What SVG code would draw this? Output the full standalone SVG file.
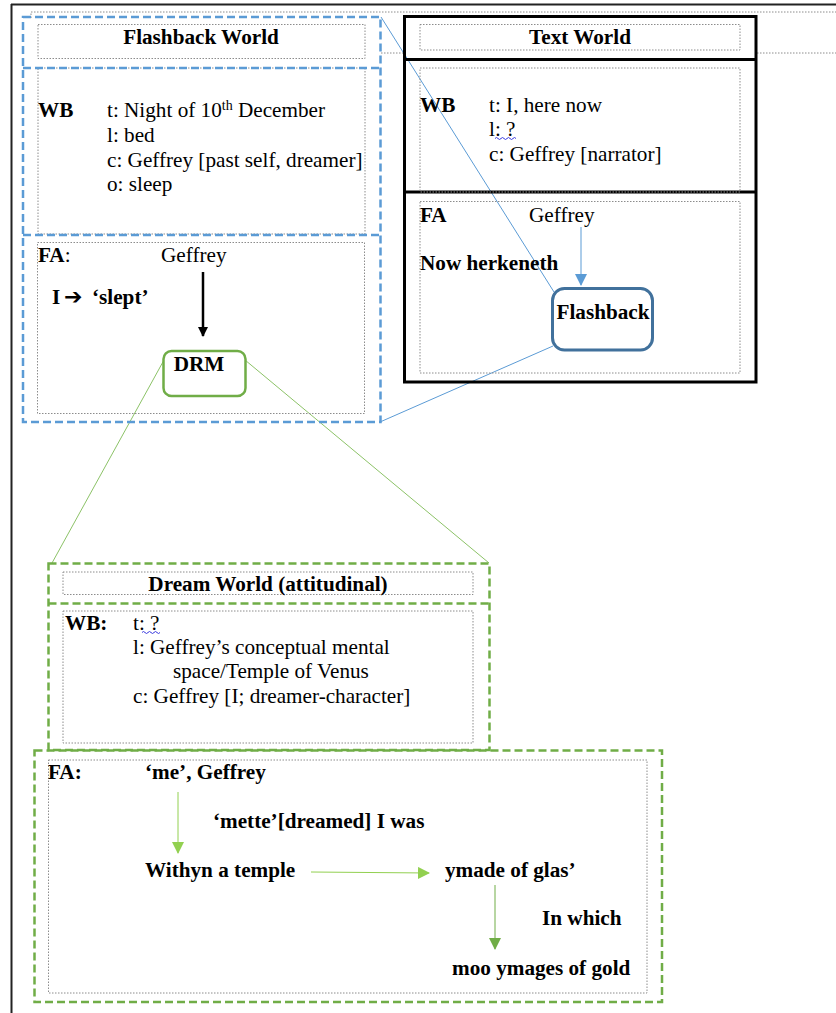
<svg xmlns="http://www.w3.org/2000/svg" width="836" height="1013" viewBox="0 0 836 1013">
  <style>
    text { font-family: "Liberation Serif", "Times New Roman", serif; font-size: 21.2px; fill: #000; }
    .b { font-weight: bold; }
    .dot { fill: none; stroke: #8c8c8c; stroke-width: 1; stroke-dasharray: 1.5 1.5; }
    .bluedash { fill: none; stroke: #5b9bd5; stroke-width: 2.5; stroke-dasharray: 8 4; }
    .greendash { fill: none; stroke: #70ad47; stroke-width: 2.5; stroke-dasharray: 8 4; }
    .blk { fill: none; stroke: #000; stroke-width: 3; }
    .link-blue { stroke: #5b9bd5; stroke-width: 1; fill: none; }
    .link-green { stroke: #8cc267; stroke-width: 1; fill: none; }
    .squig { stroke: #3a3adf; stroke-width: 1; fill: none; }
  </style>
  <defs>
    <marker id="ah-black" markerWidth="10" markerHeight="10" refX="9" refY="5" orient="auto" markerUnits="userSpaceOnUse">
      <path d="M0,0 L10,5 L0,10 Z" fill="#000"/>
    </marker>
    <marker id="ah-blue" markerWidth="12" markerHeight="12" refX="11" refY="6" orient="auto" markerUnits="userSpaceOnUse">
      <path d="M0,0 L12,6 L0,12 Z" fill="#5b9bd5"/>
    </marker>
    <marker id="ah-lgreen" markerWidth="12" markerHeight="12" refX="11" refY="6" orient="auto" markerUnits="userSpaceOnUse">
      <path d="M0,0 L12,6 L0,12 Z" fill="#92d050"/>
    </marker>
    <marker id="ah-dgreen" markerWidth="12" markerHeight="12" refX="11" refY="6" orient="auto" markerUnits="userSpaceOnUse">
      <path d="M0,0 L12,6 L0,12 Z" fill="#70ad47"/>
    </marker>
  </defs>
  <rect width="836" height="1013" fill="#fff"/>

  <!-- page frame -->
  <g id="frame">
    <line x1="11" y1="4.5" x2="836" y2="4.5" stroke="#222" stroke-width="2"/>
    <line x1="11.5" y1="4" x2="11.5" y2="1013" stroke="#222" stroke-width="2"/>
    <path class="dot" d="M31,18 V12 H836"/>
    <line class="dot" x1="381" y1="53" x2="404" y2="53"/>
    <line class="dot" x1="757" y1="53" x2="836" y2="53"/>
  </g>

  <!-- connectors -->
  <g id="connectors">
    <line class="link-blue" x1="381" y1="17" x2="554" y2="292"/>
    <line class="link-blue" x1="380" y1="422" x2="553" y2="346"/>
    <line class="link-green" x1="164" y1="360" x2="52" y2="563"/>
    <line class="link-green" x1="245" y1="360" x2="489" y2="563"/>
    <line x1="203" y1="272" x2="203" y2="336" stroke="#000" stroke-width="2.5" marker-end="url(#ah-black)"/>
    <line x1="581" y1="227" x2="581" y2="285" stroke="#5b9bd5" stroke-width="1" marker-end="url(#ah-blue)"/>
    <line x1="178" y1="792" x2="178" y2="853" stroke="#92d050" stroke-width="1" marker-end="url(#ah-lgreen)"/>
    <line x1="311" y1="872" x2="429" y2="873" stroke="#92d050" stroke-width="1" marker-end="url(#ah-lgreen)"/>
    <line x1="495" y1="885" x2="495" y2="949" stroke="#70ad47" stroke-width="1" marker-end="url(#ah-dgreen)"/>
  </g>

  <!-- Flashback World -->
  <g id="flashback-world">
    <rect class="dot" x="38" y="24.5" width="327" height="34"/>
    <rect class="dot" x="38" y="68" width="327" height="166"/>
    <rect class="dot" x="37.5" y="242.5" width="327" height="171"/>
    <rect class="bluedash" x="23" y="17" width="357.5" height="405"/>
    <line class="bluedash" x1="23" y1="68" x2="380.5" y2="68"/>
    <line class="bluedash" x1="23" y1="235" x2="380.5" y2="235"/>
    <text class="b" x="201" y="44" text-anchor="middle">Flashback World</text>
    <text class="b" x="38" y="117">WB</text>
    <text x="107" y="117">t: Night of 10<tspan font-size="14" dy="-7">th</tspan><tspan dy="7"> December</tspan></text>
    <text x="107" y="142">l: bed</text>
    <text x="107" y="167">c: Geffrey [past self, dreamer]</text>
    <text x="107" y="191">o: sleep</text>
    <text x="38" y="262"><tspan class="b">FA</tspan>:</text>
    <text x="161" y="262">Geffrey</text>
    <text class="b" x="52" y="304">I<tspan x="64" font-family="DejaVu Sans, sans-serif" font-size="22">➔</tspan><tspan x="92">‘slept’</tspan></text>
  </g>

  <g id="drm">
    <rect x="163.5" y="351" width="82" height="45" rx="8" fill="#fff" stroke="#70ad47" stroke-width="2.5"/>
    <text class="b" x="199" y="371" text-anchor="middle">DRM</text>
  </g>

  <!-- Text World -->
  <g id="text-world">
    <rect class="blk" x="404.5" y="16.5" width="351.5" height="365.5"/>
    <line class="blk" x1="404.5" y1="59.5" x2="756" y2="59.5"/>
    <line class="blk" x1="404.5" y1="192" x2="756" y2="192"/>
    <rect class="dot" x="420" y="24.5" width="320" height="25.5"/>
    <rect class="dot" x="420" y="68" width="320" height="124"/>
    <rect class="dot" x="420" y="201.5" width="320" height="171.5"/>
    <text class="b" x="580" y="44" text-anchor="middle">Text World</text>
    <text class="b" x="420" y="112">WB</text>
    <text x="489" y="112">t: I, here now</text>
    <text x="489" y="136">l: ?</text>
    <path class="squig" d="M495,138.5 q1.5,-2 3,0 t3,0 t3,0 t3,0 t3,0 t3,0 t3,0"/>
    <text x="489" y="161">c: Geffrey [narrator]</text>
    <text class="b" x="420" y="222">FA</text>
    <text x="529" y="222">Geffrey</text>
    <text class="b" x="420" y="270">Now herkeneth</text>
  </g>

  <g id="flashback-node">
    <rect x="552.5" y="288.5" width="100" height="61.5" rx="12" fill="#fff" stroke="#41719c" stroke-width="3"/>
    <text class="b" x="603" y="319" text-anchor="middle">Flashback</text>
  </g>

  <!-- Dream World -->
  <g id="dream-world">
    <rect class="dot" x="63" y="572" width="410" height="22.5"/>
    <rect class="dot" x="63" y="611" width="410" height="132"/>
    <rect class="greendash" x="48.5" y="563.5" width="441" height="186.5"/>
    <line class="greendash" x1="48.5" y1="603.5" x2="489.5" y2="603.5"/>
    <text class="b" x="268" y="591" text-anchor="middle" font-size="22.4">Dream World (attitudinal)</text>
    <text class="b" x="65" y="630">WB:</text>
    <text x="133" y="630">t: ?</text>
    <path class="squig" d="M142,632.5 q1.5,-2 3,0 t3,0 t3,0 t3,0 t3,0 t3,0"/>
    <text x="133" y="654">l: Geffrey’s conceptual mental</text>
    <text x="173" y="678">space/Temple of Venus</text>
    <text x="133" y="703">c: Geffrey [I; dreamer-character]</text>
  </g>

  <!-- Dream World FA -->
  <g id="dream-fa">
    <rect class="dot" x="48.5" y="760" width="598.5" height="233"/>
    <rect class="greendash" x="34.5" y="750.5" width="627.5" height="251.5"/>
    <text class="b" x="48" y="779">FA:</text>
    <text class="b" x="145" y="779">‘me’, Geffrey</text>
    <text class="b" x="213" y="828">‘mette’[dreamed] I was</text>
    <text class="b" x="145" y="877">Withyn a temple</text>
    <text class="b" x="445" y="877">ymade of glas’</text>
    <text class="b" x="542" y="925">In which</text>
    <text class="b" x="452" y="975">moo ymages of gold</text>
  </g>
</svg>
